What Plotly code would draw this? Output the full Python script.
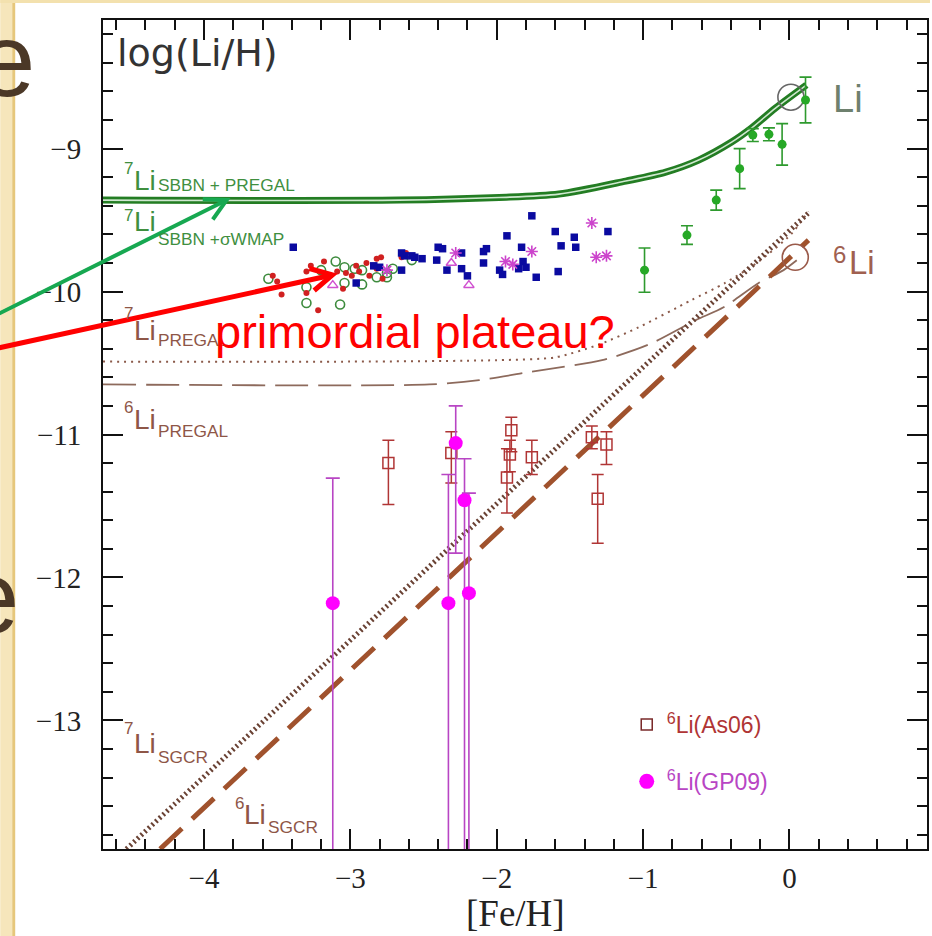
import math
import plotly.graph_objects as go

# ---------------- page geometry ----------------
W, H = 932, 936
ML, MR, MT, MB = 103, 3, 20, 87
PW = W - ML - MR
PH = H - MT - MB


def fx(px):
    return (px - ML) / PW


def fy(py):
    return (H - MB - py) / PH


X_RANGE = [-4.69, 0.94]
Y_RANGE = [-13.9, -8.1]

# ---------------- model curves ----------------
sbbn_x = [-4.69, -2.665, -1.984, -1.575, -1.118, -0.845, -0.62, -0.395, -0.259, -0.095, 0.116]
sbbn_y = [-9.36, -9.36, -9.342, -9.318, -9.227, -9.164, -9.08, -8.954, -8.856, -8.716, -8.555]

li7_pregal_x = [-4.69, -3.0, -2.0, -1.6, -1.3, -1.03, -0.67, -0.44, -0.21, 0.01, 0.13]
li7_pregal_y = [-10.49, -10.49, -10.48, -10.46, -10.37, -10.25, -10.06, -9.94, -9.79, -9.60, -9.44]

li6_pregal_x = [-4.69, -2.46, -2.12, -1.76, -1.28, -0.96, -0.64, -0.45, -0.21, -0.04, 0.10]
li6_pregal_y = [-10.65, -10.65, -10.62, -10.56, -10.48, -10.37, -10.20, -10.11, -9.94, -9.85, -9.74]

li7_sgcr_x = [-4.53, 0.13]
li7_sgcr_y = [-13.90, -9.45]
li6_sgcr_x = [-4.30, 0.13]
li6_sgcr_y = [-13.90, -9.64]

# present-day (solar) values
solar_x = [0.01, 0.04]
solar_y = [-8.64, -9.76]

# ---------------- observations ----------------
disk_x = [0.11, -0.05, -0.14, -0.25, -0.34, -0.50, -0.70, -0.99]
disk_y = [-8.66, -8.97, -8.90, -8.905, -9.14, -9.36, -9.605, -9.85]
disk_err = [0.16, 0.145, 0.045, 0.045, 0.14, 0.07, 0.065, 0.155]

halo_x = [-1.76, -1.93, -1.60, -1.47, -1.24, -1.83, -1.56, -1.46, -2.07, -2.09,
          -2.40, -2.24, -2.41, -2.51, -2.56, -2.63, -2.65, -2.34, -2.09, -2.24,
          -2.20, -1.98, -1.96, -1.85, -1.82, -1.80, -1.73, -1.58, -2.80, -2.84,
          -2.96, -3.39, -2.65, -2.37, -2.58]
halo_y = [-9.47, -9.61, -9.58, -9.62, -9.58, -9.69, -9.68, -9.69, -9.70, -9.72,
          -9.69, -9.73, -9.78, -9.77, -9.76, -9.75, -9.85, -9.85, -9.80, -9.84,
          -9.89, -9.85, -9.88, -9.84, -9.79, -9.83, -9.90, -9.86, -9.83, -9.82,
          -9.94, -9.69, -9.73, -9.70, -9.75]

star_x = [-1.35, -1.76, -1.32, -1.25, -1.94, -1.89, -2.28, -2.75]
star_y = [-9.52, -9.72, -9.76, -9.75, -9.79, -9.81, -9.73, -9.85]

tri_x = [-2.31, -2.19, -3.12]
tri_y = [-9.80, -9.955, -9.955]

ocirc_x = [-3.56, -3.30, -3.07, -3.20, -3.10, -3.04, -3.04, -2.92, -2.92, -2.82,
           -2.75, -2.58, -3.30, -2.75, -2.71, -2.97]
ocirc_y = [-9.91, -10.08, -10.09, -9.85, -9.79, -9.83, -9.94, -9.95, -9.85, -9.90,
           -9.90, -9.78, -9.97, -9.87, -9.84, -9.84]

red_x = [-3.53, -3.50, -3.47, -3.30, -3.27, -3.18, -3.16, -3.09, -3.03, -3.05,
         -3.22, -3.30, -2.96, -2.89, -2.82, -2.79, -2.87, -2.78, -2.94, -2.65,
         -2.62, -2.82, -2.99]
red_y = [-9.89, -9.93, -10.02, -9.86, -9.82, -9.79, -9.89, -9.86, -9.87, -9.98,
         -10.13, -10.01, -9.82, -9.80, -9.77, -9.76, -9.89, -9.91, -9.86, -9.76,
         -9.73, -9.84, -9.89]

as06_x = [-2.74, -2.31, -1.90, -1.91, -1.93, -1.76, -1.35, -1.25, -1.31]
as06_y = [-11.20, -11.13, -10.97, -11.14, -11.30, -11.16, -11.02, -11.07, -11.45]
as06_up = [0.16, 0.15, 0.09, 0.10, 0.20, 0.12, 0.08, 0.09, 0.17]
as06_dn = [0.29, 0.21, 0.15, 0.12, 0.25, 0.12, 0.08, 0.14, 0.31]

gp09_x = [-3.12, -2.33, -2.28, -2.22, -2.19]
gp09_y = [-12.18, -12.18, -11.06, -11.46, -12.11]
gp09_up = [0.875, 0.90, 0.26, 0.29, 0.70]
gp09_dn = [3.0, 3.0, 0.77, 3.0, 3.0]

# ---------------- styles ----------------
SANS = "Liberation Sans, Arial, sans-serif"
SERIF = "Liberation Serif, Times New Roman, serif"
GREEN_TXT = "#3f8f3f"
BROWN_TXT = "#8e5647"
AS06_COL = "#b03535"
GP09_COL = "#ff00ff"
GP09_BAR = "#b845c4"

fig = go.Figure()

# 7Li SBBN + PREGAL band (double line)
fig.add_trace(go.Scatter(x=sbbn_x, y=sbbn_y, mode="lines", hoverinfo="skip", showlegend=False,
                         line=dict(color="#237d23", width=7, shape="spline", smoothing=0.8)))
fig.add_trace(go.Scatter(x=sbbn_x, y=sbbn_y, mode="lines", hoverinfo="skip", showlegend=False,
                         line=dict(color="#cfe8cf", width=1.6, shape="spline", smoothing=0.8)))

# PREGAL curves
fig.add_trace(go.Scatter(x=li7_pregal_x, y=li7_pregal_y, mode="lines", showlegend=False,
                         line=dict(color="#8b5a4a", width=2, dash="2px,5px", shape="spline", smoothing=0.7)))
fig.add_trace(go.Scatter(x=li6_pregal_x, y=li6_pregal_y, mode="lines", showlegend=False,
                         line=dict(color="#8d6a5c", width=1.8, dash="33px,10px", shape="spline", smoothing=0.7)))

# SGCR lines
fig.add_trace(go.Scatter(x=li7_sgcr_x, y=li7_sgcr_y, mode="lines", showlegend=False,
                         line=dict(color="#6a4234", width=5, dash="2px,3px")))
fig.add_trace(go.Scatter(x=li6_sgcr_x, y=li6_sgcr_y, mode="lines", showlegend=False,
                         line=dict(color="#a0522d", width=5, dash="30px,14px")))

# solar markers
fig.add_trace(go.Scatter(x=solar_x, y=solar_y, mode="markers", showlegend=False,
                         marker=dict(symbol="circle-open", size=26,
                                     color=["#666666", "#9a5a4a"], line=dict(width=1.6))))

# 7Li observations
fig.add_trace(go.Scatter(x=ocirc_x, y=ocirc_y, mode="markers", showlegend=False,
                         marker=dict(symbol="circle-open", size=9, color="#3d8b3d", line=dict(width=1.6))))
fig.add_trace(go.Scatter(x=red_x, y=red_y, mode="markers", showlegend=False,
                         marker=dict(symbol="circle", size=6, color="#d02020")))
fig.add_trace(go.Scatter(x=halo_x, y=halo_y, mode="markers", showlegend=False,
                         marker=dict(symbol="square", size=7.5, color="#0a0aa0")))
fig.add_trace(go.Scatter(x=star_x, y=star_y, mode="markers", showlegend=False,
                         marker=dict(symbol="asterisk-open", size=10, color="#cc44cc", line=dict(width=1.6))))
fig.add_trace(go.Scatter(x=tri_x, y=tri_y, mode="markers", showlegend=False,
                         marker=dict(symbol="triangle-up-open", size=9, color="#d050d0", line=dict(width=1.5))))
fig.add_trace(go.Scatter(x=disk_x, y=disk_y, mode="markers", showlegend=False,
                         marker=dict(symbol="circle", size=9, color="#26a826"),
                         error_y=dict(type="data", array=disk_err, color="#2e9a2e",
                                      thickness=1.6, width=6)))

# 6Li observations
fig.add_trace(go.Scatter(x=as06_x, y=as06_y, mode="markers", showlegend=False,
                         marker=dict(symbol="square-open", size=11, color=AS06_COL, line=dict(width=1.5)),
                         error_y=dict(type="data", symmetric=False, array=as06_up, arrayminus=as06_dn,
                                      color=AS06_COL, thickness=1.5, width=6)))
fig.add_trace(go.Scatter(x=gp09_x, y=gp09_y, mode="markers", showlegend=False,
                         marker=dict(symbol="circle", size=14, color=GP09_COL),
                         error_y=dict(type="data", symmetric=False, array=gp09_up, arrayminus=gp09_dn,
                                      color=GP09_BAR, thickness=1.6, width=7)))

# legend entries
fig.add_trace(go.Scatter(x=[None], y=[None], mode="markers", legendgroup="a",
                         name=f"<span style='color:{AS06_COL}'><sup>6</sup>Li(As06)</span>",
                         marker=dict(symbol="square-open", size=11, color="#7a2a2a", line=dict(width=1.5))))
fig.add_trace(go.Scatter(x=[None], y=[None], mode="markers", legendgroup="b",
                         name=f"<span style='color:{GP09_BAR}'><sup>6</sup>Li(GP09)</span>",
                         marker=dict(symbol="circle", size=15, color=GP09_COL)))

# ---------------- text labels ----------------
annotations = []


def label(text, px, py, size, color, family=SANS, xanchor="left"):
    annotations.append(dict(text=text, x=fx(px), y=fy(py), xref="paper", yref="paper",
                            xanchor=xanchor, yanchor="middle", showarrow=False,
                            borderpad=0, font=dict(family=family, size=size, color=color)))


label("log(Li/H)", 116, 53, 38, "#333333", family="DejaVu Sans, sans-serif")

for sup, sub, y_sup, y_li, y_sub, col in [
    ("7", "SBBN + PREGAL", 168, 180, 185, GREEN_TXT),
    ("7", "SBBN +σWMAP", 216, 222, 239, GREEN_TXT),
    ("7", "PREGAL", 314, 330, 340, BROWN_TXT),
    ("6", "PREGAL", 407, 420, 431, BROWN_TXT),
    ("7", "SGCR", 728, 743, 757, BROWN_TXT),
]:
    label(sup, 123, y_sup, 17, col)
    label("Li", 133, y_li, 28, col)
    label(sub, 157, y_sub, 17.3, col)

label("6", 234, 803, 17, BROWN_TXT)
label("Li", 243, 814, 28, BROWN_TXT)
label("SGCR", 267, 827, 17.3, BROWN_TXT)

label("Li", 834, 99, 38, "#6e806e")
label("6", 834, 254, 24, "#a06050")
label("Li", 850, 262, 33, "#a06050")

label("[Fe/H]", 517, 913, 37, "#222222", family=SERIF, xanchor="center")

# slide text partly hidden behind the chart
label("e", 6, 60, 103, "#4b3827", xanchor="center")
label("e", -10, 597, 103, "#4b3827", xanchor="center")

label("primordial plateau?", 214, 331, 47, "#ff0000")

# ---------------- shapes: slide border and arrows ----------------
shapes = [
    dict(type="rect", xref="paper", yref="paper", x0=fx(0), x1=fx(12), y0=fy(H), y1=fy(0),
         fillcolor="#f6e6bb", line=dict(width=0), layer="below"),
    dict(type="rect", xref="paper", yref="paper", x0=fx(12), x1=fx(15), y0=fy(H), y1=fy(0),
         fillcolor="#e6c77b", line=dict(width=0), layer="below"),
    dict(type="rect", xref="paper", yref="paper", x0=fx(0), x1=fx(W), y0=fy(3), y1=fy(0),
         fillcolor="#f3e1ae", line=dict(width=0), layer="below"),
]


def arrow(tail, head, color, width, wing=24, ang=28):
    dx, dy = head[0] - tail[0], head[1] - tail[1]
    length = math.hypot(dx, dy)
    bx, by = -dx / length, -dy / length
    ends = []
    for s in (1, -1):
        a = math.radians(ang * s)
        ex = head[0] + wing * (bx * math.cos(a) - by * math.sin(a))
        ey = head[1] + wing * (bx * math.sin(a) + by * math.cos(a))
        ends.append((ex, ey))
    shapes.append(dict(type="line", xref="paper", yref="paper",
                       x0=fx(tail[0]), y0=fy(tail[1]), x1=fx(head[0]), y1=fy(head[1]),
                       line=dict(color=color, width=width), layer="above"))
    path = "M {} {} L {} {} L {} {}".format(fx(ends[0][0]), fy(ends[0][1]),
                                            fx(head[0]), fy(head[1]),
                                            fx(ends[1][0]), fy(ends[1][1]))
    shapes.append(dict(type="path", xref="paper", yref="paper", path=path,
                       line=dict(color=color, width=width), layer="above"))


arrow((-2, 314), (227, 200), "#17a851", 4)
arrow((-2, 348), (333, 275), "#ff0000", 5)

axis_common = dict(showgrid=False, zeroline=False, showline=True, linecolor="#111111", linewidth=2,
                   mirror="allticks", ticks="inside", ticklen=20, tickwidth=2, tickcolor="#111111",
                   dtick=1, tick0=0,
                   tickfont=dict(family=SERIF, size=29, color="#222222"),
                   minor=dict(dtick=0.2, tick0=0, ticks="inside", ticklen=10, tickwidth=1.5,
                              tickcolor="#111111", showgrid=False))

fig.update_layout(
    width=W, height=H,
    margin=dict(l=ML, r=MR, t=MT, b=MB),
    paper_bgcolor="white", plot_bgcolor="white",
    xaxis=dict(range=X_RANGE, ticklabelstandoff=2, **axis_common),
    yaxis=dict(range=Y_RANGE, ticklabelstandoff=14, **axis_common),
    showlegend=True,
    legend=dict(x=fx(628), y=fy(703), xanchor="left", yanchor="top",
                bgcolor="rgba(0,0,0,0)", traceorder="grouped", tracegroupgap=24,
                font=dict(family=SANS, size=23), itemsizing="trace"),
    annotations=annotations,
    shapes=shapes,
)

fig.write_html("out.html")
